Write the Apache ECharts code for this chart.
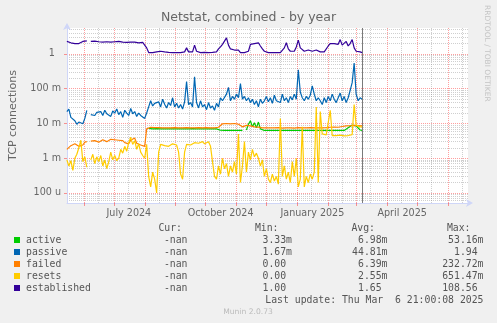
<!DOCTYPE html>
<html>
<head>
<meta charset="utf-8">
<script src="https://cdn.jsdelivr.net/npm/echarts@6/dist/echarts.min.js"></script>
<style>
  html, body { margin: 0; padding: 0; background: #f0f0f0; }
  #chart { width: 497px; height: 323px; }
</style>
</head>
<body>
<div id="chart"></div>
<script>
// Netstat, combined - yearly view (Munin style)
const seriesNames  = ['active', 'passive', 'failed', 'resets', 'established'];
const seriesColors = ['#00cc00', '#0066b3', '#ff8000', '#ffcc00', '#330099'];

// samples every two days, first sample at this time
const firstSample = '2024-05-14T21:00:00';
const stepDays = 2;

// values in milli-connections per second unless noted
const passiveMilli = [
  22, 26, 15, 17, 12, 9.5, 11, 10, 9.8, 14, 24,
  null,
  18, 20, 17, 21, 19, 22, 17, 24, 19, 21, 16, 23, 20, 26, 18, 22, 15, 24, 20, 17, 27, 19, 22, 16, 20, 17, 15,
  14,
  20, 30, 45, 32, 38, 35, 42, 30, 50, 36, 28, 40, 33, 55, 30, 38, 28, 35, 26, 42,
  160, 35, 40, 30, 220, 40, 28, 45, 30, 35, 25, 40, 28, 32, 24, 38, 30, 55, 45,
  50, 70, 110, 45, 60, 50, 70, 55, 140, 50, 60, 45, 55, 40, 50, 35, 45, 30, 50, 38, 45,
  60, 42, 55, 38, 65, 45, 50, 40, 70, 45, 55, 40, 60, 48, 70, 50, 350, 80, 55, 45, 60, 50, 65, 120, 70, 45, 55,
  45, 35, 55, 40, 60, 45, 70, 50, 40, 55, 75, 45, 60, 40, 55, 90, 150, 550, 70, 45, 55, 50
];

const failedMilli = [
  1.8, 2.0, 2.3, 2.1, 2.6, 2.3, 2.2, 2.5, 2.4, 2.9, 3.0,
  null,
  3.1, 3.0, 3.2, 3.3, 2.9, 3.1, 3.4, 3.2, 3.0, 3.3, 3.5, 3.2, 3.4, 3.1, 3.3, 3.0, 3.2, 2.8, 3.0, 2.6, 3.3, 2.9, 3.8, 2.7, 2.5, 2.4, 2.3,
  2.2,
  7.0,
  7.6, 7.8, 7.5, 7.6, 7.5, 7.6, 7.7, 7.5, 7.6, 7.5, 7.6, 7.5, 7.5, 7.6, 7.5, 7.5, 7.6, 7.5,
  7.5, 7.6, 7.5, 7.5, 7.6, 7.5, 7.5, 7.6, 7.5, 7.5, 7.5, 7.6, 7.5, 7.5, 7.6, 7.5, 7.6, 7.8,
  8.5, 9.8, 10.5, 10.0, 10.3, 9.8, 10.2, 10.0, 10.5, 9.5,
  8.5, 8.0, 8.5, 8.8, 9.0, 8.5, 8.2, 8.0, 7.8, 7.9, 7.6,
  7.5, 7.4, 7.5, 7.6, 7.5, 7.4, 7.5, 7.5, 7.6, 7.5, 7.4, 7.5, 7.5, 7.6, 7.5, 7.5, 7.4,
  7.5, 7.6, 7.5, 7.5, 7.4, 7.5, 7.5, 7.6, 7.5, 7.5, 7.4, 7.5, 7.6, 7.5, 7.5, 7.6,
  7.6, 7.8, 7.7, 7.9, 8.0, 7.8, 8.1, 8.2, 8.0, 8.5, 8.3, 8.6, 8.4, 8.8, 8.5, 8.7, 8.5, 8.6
];

// active connections only start being recorded at sample 41
const activeFirstSample = 41;
const activeMilli = [
  7.2, 7.0, 7.0, 7.0, 7.1, 7.0, 7.0, 7.0, 7.0, 7.1, 7.0, 7.0, 7.0, 7.0, 7.0, 7.1, 7.0, 7.0,
  7.0, 7.0, 7.0, 7.0, 7.1, 7.0, 7.0, 7.0, 7.0, 7.0, 7.0, 7.1, 7.0, 7.0, 7.0, 7.0, 7.0, 7.0,
  6.4, 6.3, 6.3, 6.3, 6.3, 6.3, 6.3, 6.4, 6.3, 6.3, 6.3, 6.3,
  null,
  6.5, 9.5, 12, 8.0, 10.5, 7.5, 11, 7.0, 6.5,
  6.3, 6.4, 6.3, 6.3, 6.4, 6.3, 6.3, 6.3, 6.4, 6.3, 6.3, 6.4, 6.3, 6.3, 6.3, 6.4, 6.3, 6.3, 6.4, 6.3, 6.3,
  6.3, 6.4, 6.3, 6.3, 6.4, 6.3, 6.3, 6.3, 6.4, 6.3, 6.3, 6.4, 6.3, 6.3, 6.3, 6.4, 6.3, 6.3, 6.4, 6.3, 6.3,
  7.5, 8.5, 9.0, 8.0, 8.5, 7.5,
  6.5, 6.3
];

const resetsMilli = [
  0.9, 0.6, 0.85, 0.45, 1.0, 1.3, 2.0, 3.3, 0.8, 1.1, 0.55,
  null,
  0.9, 1.3, 0.7, 1.1, 0.8, 1.2, 0.6, 0.9, 0.5, 0.8, 1.5, 0.9, 1.2, 0.85, 1.0, 1.8, 1.4, 2.2, 1.6, 2.8, 4.0, 2.5, 3.2, 1.8, 2.6, 1.5,
  1.2, 1.0,
  2.5, 0.3, 0.15, 0.4, 0.25, 0.1, 1.5, 2.5, 2.6, 2.3, 2.5, 2.2, 2.4, 2.6, 2.3, 2.4, 1.5,
  0.35, 0.25, 1.5, 2.5, 2.7, 2.4, 2.6, 2.8, 2.5, 2.7, 2.4, 3.0, 2.6, 2.5, 3.0, 2.2,
  0.8, 0.3, 0.25, 0.6, 0.35, 1.0, 0.5, 0.7, 0.3, 0.6, 0.4, 0.8, 0.35, 5.0, 0.2, 0.6, 3.0, 0.4,
  1.5, 0.9, 1.8, 1.1, 1.4, 1.0, 0.6, 0.9, 0.3, 0.5, 0.25, 0.2, 0.35, 0.22, 0.3, 0.18,
  14, 0.3, 0.6, 0.25, 0.4, 0.2, 0.8, 0.3, 1.0, 0.15, 0.25, 8, 0.15, 0.3, 0.2, 0.35, 0.25, 0.4, 30, 0.2, 22,
  5.0, 4.8, 4.7, 4.6, 24, 4.5, 4.6, 4.5, 4.4, 4.6, 4.5, 4.4, 4.6, 4.5, 4.4, 4.8, 35, 9, 8.5, 8.0, 8.0
];

// established connections (plain count)
const established = [
  2.3, 2.2, 2.1, 2.1, 2.0, 2.1, 2.0, 2.05, 2.3, 2.25, 2.4,
  null,
  2.3, 2.25, 2.35, 2.45, 2.25, 2.3, 2.2, 2.35, 2.25, 2.4, 2.2, 2.3, 2.25, 2.2, 2.3, 2.25, 2.2, 2.2, 2.15, 2.2, 2.2, 2.2, 2.2, 2.15, 2.1, 2.1, 2.15,
  2.1,
  1.5,
  1.1, 1.15, 1.1, 1.2, 1.15, 1.1, 1.2, 1.1, 1.15, 1.1, 1.12, 1.2, 1.1, 1.12, 1.1, 1.15, 1.1, 1.1, 1.15,
  1.5, 1.15, 1.1, 1.15, 1.8, 1.2, 1.1,
  1.1, 1.1, 1.12, 1.1, 1.1, 1.1, 1.12, 1.1, 1.15,
  1.4, 1.6, 1.9, 2.1, 2.9, 1.8, 1.4, 1.5, 1.3, 1.35, 1.3, 1.1, 1.15, 1.1, 1.12, 1.2,
  1.9, 1.8, 2.0, 1.9, 2.1, 1.7, 1.4, 1.2, 1.15,
  1.1, 1.15, 1.1, 1.12, 1.1, 1.15, 1.1, 1.2,
  1.5, 2.1, 1.4, 1.2, 1.15, 1.2, 1.6, 2.5, 1.5, 1.6, 1.2, 1.15, 1.3, 1.15, 1.2, 1.15, 1.3, 1.2, 1.15, 1.25, 1.15, 1.2,
  1.7, 2.0, 1.9, 2.0, 1.8, 1.9, 2.6, 1.8, 1.9, 2.3, 1.7, 2.0, 2.6, 1.5, 1.2, 1.15, 1.15, 1.1
];

// axis labels
const xTickDates  = ['2024-07-16', '2024-10-16', '2025-01-16', '2025-04-16'];
const xTickLabels = ['July 2024', 'October 2024', 'January 2025', 'April 2025'];
const yTickValues = [1e-4, 1e-3, 1e-2, 1e-1, 1];
const yTickLabels = ['100 u', '1 m', '10 m', '100 m', '1  '];

// legend statistics
const statCur = ['-nan', '-nan', '-nan', '-nan', '-nan'];
const statMin = ['3.33m', '1.67m', '0.00 ', '0.00 ', '1.00 '];
const statAvg = ['6.98m', '44.81m', '6.39m', '2.55m', '1.65 '];
const statMax = ['53.16m', '1.94 ', '232.72m', '651.47m', '108.56 '];
const lastUpdate = 'Last update: Thu Mar  6 21:00:08 2025';
const nowTime = '2025-03-06T21:00:00';

const rangeStart = '2024-05-15T00:00:00';
const rangeEnd = '2025-06-21T00:00:00';

const DAY = 86400000;
const ts = s => new Date(s.length === 10 ? s + 'T00:00:00' : s).getTime();
const t0 = ts(firstSample);

function toSeries(values, scale, offset) {
  return values.map((v, i) => [t0 + (i + offset) * stepDays * DAY, v == null ? null : v * scale]);
}

const seriesData = {
  active: toSeries(activeMilli, 1e-3, activeFirstSample),
  passive: toSeries(passiveMilli, 1e-3, 0),
  failed: toSeries(failedMilli, 1e-3, 0),
  resets: toSeries(resetsMilli, 1e-3, 0),
  established: toSeries(established, 1, 0)
};

const yMin = 5.15e-5, yMax = 5.6;

// grid positions: decades / month starts (red), 2..9 multiples / mid-month (grey)
const yMinorValues = [];
for (let e = -5; e <= 0; e++) {
  for (let m = 2; m <= 9; m++) {
    const v = m * Math.pow(10, e);
    if (v > yMin && v < yMax) yMinorValues.push(v);
  }
}
const monthStarts = [], monthMiddles = [];
for (let y = 2024, mo = 4; !(y === 2025 && mo === 6); mo++) {
  if (mo === 12) { mo = 0; y++; }
  const start = new Date(y, mo, 1).getTime();
  const mid = new Date(y, mo, 15).getTime();
  if (start > ts(rangeStart)) monthStarts.push(start);
  if (mid > ts(rangeStart) && mid < ts(rangeEnd)) monthMiddles.push(mid);
}

const majorLine = { color: 'rgba(255,0,0,0.38)', width: 1, type: [1, 1] };
const minorLine = { color: 'rgba(128,128,128,0.38)', width: 1, type: [1, 1] };

function nearestLabel(values, labels, v, log) {
  let best = 0, bd = Infinity;
  values.forEach((x, i) => {
    const d = log ? Math.abs(Math.log10(x) - Math.log10(v)) : Math.abs(x - v);
    if (d < bd) { bd = d; best = i; }
  });
  return labels[best];
}

const axisFont = { fontFamily: 'DejaVu Sans', fontSize: 9.6, color: '#666' };
const monoFont = '9.8px "DejaVu Sans Mono"';
const textFill = '#555';

const colX = { cur: 187.5, min: 292, avg: 387.5, max: 483.5 };
const headX = { cur: 182, min: 278.5, avg: 375, max: 470.5 };
const rowY0 = 240, rowStep = 12;

const graphics = [
  { type: 'text', x: headX.cur, y: 228, style: { text: 'Cur:', align: 'right', verticalAlign: 'middle', font: monoFont, fill: textFill } },
  { type: 'text', x: headX.min, y: 228, style: { text: 'Min:', align: 'right', verticalAlign: 'middle', font: monoFont, fill: textFill } },
  { type: 'text', x: headX.avg, y: 228, style: { text: 'Avg:', align: 'right', verticalAlign: 'middle', font: monoFont, fill: textFill } },
  { type: 'text', x: headX.max, y: 228, style: { text: 'Max:', align: 'right', verticalAlign: 'middle', font: monoFont, fill: textFill } },
  { type: 'text', x: colX.max, y: rowY0 + 5 * rowStep, style: { text: lastUpdate, align: 'right', verticalAlign: 'middle', font: monoFont, fill: textFill } },
  { type: 'text', x: 248, y: 312, style: { text: 'Munin 2.0.73', align: 'center', verticalAlign: 'middle', font: '7.6px "DejaVu Sans"', fill: '#bbbbbb' } },
  { type: 'text', x: 487, y: 5, rotation: -Math.PI / 2, style: { text: 'RRDTOOL / TOBI OETIKER', align: 'left', verticalAlign: 'middle', font: '7.5px "DejaVu Sans"', fill: '#c4c4c4' } }
];
[statCur, statMin, statAvg, statMax].forEach((col, ci) => {
  const x = [colX.cur, colX.min, colX.avg, colX.max][ci];
  col.forEach((txt, ri) => {
    graphics.push({ type: 'text', x, y: rowY0 + ri * rowStep,
      style: { text: txt, align: 'right', verticalAlign: 'middle', font: monoFont, fill: textFill } });
  });
});

const xTickTimes = xTickDates.map(ts);
const axisArrowLine = { show: true, lineStyle: { color: '#cfd6f8', width: 1 }, symbol: ['none', 'arrow'], symbolSize: [6, 7], symbolOffset: [0, 5] };

const chart = echarts.init(document.getElementById('chart'));
chart.setOption({
  backgroundColor: '#f0f0f0',
  animation: false,
  title: {
    text: 'Netstat, combined - by year', left: 'center', top: 11, padding: 0,
    textStyle: { fontFamily: 'DejaVu Sans', fontSize: 12.5, fontWeight: 'normal', color: '#666' }
  },
  grid: { left: 66, right: 29, top: 28, bottom: 120, show: true, backgroundColor: '#ffffff', borderWidth: 0 },
  legend: {
    data: seriesNames, orient: 'vertical', left: 14, top: 234, padding: 0, itemGap: 0,
    icon: 'rect', itemWidth: 6, itemHeight: 6, selectedMode: false,
    textStyle: { fontFamily: 'DejaVu Sans Mono', fontSize: 9.8, color: textFill, lineHeight: 12, padding: [0, 0, 0, 1] }
  },
  xAxis: [
    {
      // grey mid-month grid
      type: 'value', min: ts(rangeStart), max: ts(rangeEnd), position: 'bottom',
      axisLine: { show: false }, axisLabel: { show: false },
      axisTick: { show: false, customValues: monthMiddles },
      splitLine: { show: true, lineStyle: minorLine }
    },
    {
      type: 'value', min: ts(rangeStart), max: ts(rangeEnd), position: 'bottom',
      axisLine: axisArrowLine,
      axisTick: { show: true, customValues: monthStarts, length: 3, lineStyle: { color: 'rgba(255,0,0,0.4)' } },
      axisLabel: {
        customValues: xTickTimes, margin: 5, ...axisFont,
        formatter: v => nearestLabel(xTickTimes, xTickLabels, v, false)
      },
      splitLine: { show: true, lineStyle: majorLine }
    }
  ],
  yAxis: [
    {
      // grey 2..9 grid
      type: 'log', logBase: 10, min: yMin, max: yMax, position: 'left',
      axisLine: { show: false }, axisLabel: { show: false },
      axisTick: { show: false, customValues: yMinorValues },
      splitLine: { show: true, lineStyle: minorLine }
    },
    {
      type: 'log', logBase: 10, min: yMin, max: yMax, position: 'left',
      name: 'TCP connections', nameLocation: 'middle', nameGap: 48,
      nameTextStyle: { fontFamily: 'DejaVu Sans', fontSize: 11.1, color: '#666' },
      axisLine: axisArrowLine,
      axisTick: { show: true, customValues: yTickValues, length: 3, lineStyle: { color: 'rgba(255,0,0,0.4)' } },
      axisLabel: {
        customValues: yTickValues, margin: 6, ...axisFont,
        formatter: v => nearestLabel(yTickValues, yTickLabels, v, true)
      },
      splitLine: { show: true, lineStyle: majorLine }
    }
  ],
  series: [
    {
      type: 'line', name: 'now', data: [], silent: true, xAxisIndex: 1, yAxisIndex: 1,
      markLine: {
        silent: true, animation: false, symbol: ['none', 'none'], label: { show: false }, emphasis: { disabled: true },
        data: [{ xAxis: ts(nowTime), lineStyle: { color: '#7a7a7a', width: 1, type: 'solid' } }]
      }
    }
  ].concat(seriesNames.map((name, i) => ({
    type: 'line', name, data: seriesData[name], xAxisIndex: 1, yAxisIndex: 1, z: 3 + i,
    showSymbol: false, symbol: 'none', connectNulls: false, silent: true,
    color: seriesColors[i], lineStyle: { width: 1.2, color: seriesColors[i] },
    emphasis: { disabled: true }
  }))),
  graphic: graphics
});
</script>
</body>
</html>
